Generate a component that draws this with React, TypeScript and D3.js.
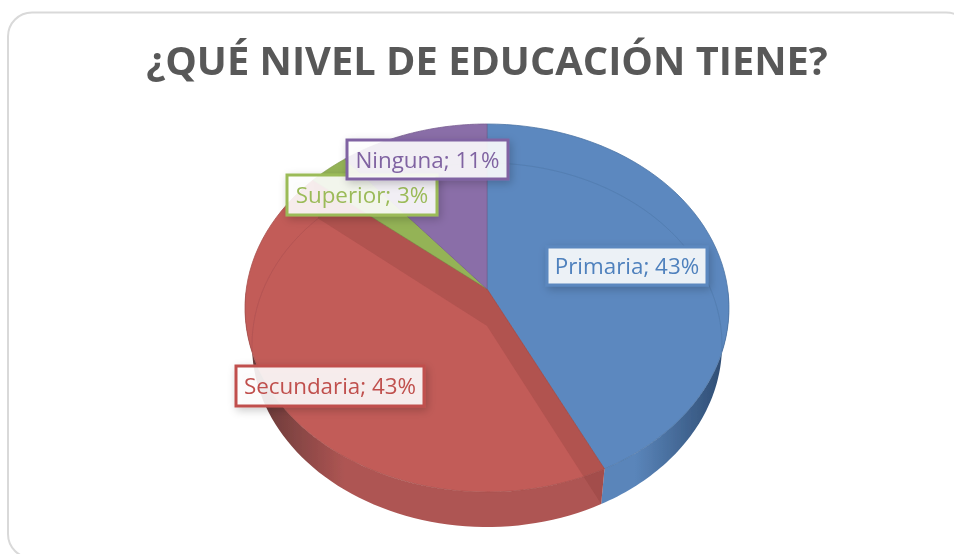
import React from "react";
import * as d3 from "d3";

const W = 954, H = 554;
const titleText = "¿QUÉ NIVEL DE EDUCACIÓN TIENE?";
const categories = ["Primaria", "Secundaria", "Superior", "Ninguna"];
const shares = [42.7, 43.3, 3, 11];
const colors = ["#5B88BF", "#C25C59", "#94B356", "#8A6EA8"];
const wallDark = ["#2E4C72", "#6B3B3A", "#94B356", "#8A6EA8"];
const wallLight = ["#5A85BA", "#AE5553", "#94B356", "#8A6EA8"];
const labelDark = ["#4F81BD", "#C0504D", "#9BBB59", "#8064A2"];
const labelBorder = ["#5B88BF", "#C0504D", "#9BBB59", "#8064A2"];
// label boxes: x, y, w, h
const boxes: Record<string, number[]> = {
  Primaria: [547, 247, 160, 38],
  Secundaria: [236, 366, 188, 40],
  Superior: [287, 175, 150, 40],
  Ninguna: [347, 140, 161, 39],
};
const drawOrder = ["Primaria", "Secundaria", "Superior", "Ninguna"];

const top = { cx: 487, cy: 308, rx: 242, ry: 184, apex: -19 };
const bot = { cx: 487, cy: 345, rx: 235, ry: 182, apex: -19 };
type Disc = typeof top;

function project(d: Disc, theta: number): [number, number] {
  const X = Math.sin(theta), Y = -Math.cos(theta);
  const c = d.apex / d.ry;
  const k = d.rx * Math.sqrt(1 - c * c);
  const den = 1 + c * Y;
  return [d.cx + (k * X) / den, d.cy + (d.ry * Y + d.apex) / den];
}
const apexPt = (d: Disc): [number, number] => [d.cx, d.cy + d.apex];
const rim = (d: Disc, a: number, b: number) =>
  d3.range(0, 61).map((i) => project(d, a + ((b - a) * i) / 60));

const line = d3.line<[number, number]>();
const pie = d3.pie<number>().sort(null).value((v) => v);
const arcs = pie(shares);

export default function App() {
  const frontStart = Math.PI * 0.5;
  const frontEnd = Math.PI * 1.5;
  return (
    <svg width={W} height={H} viewBox={`0 0 ${W} ${H}`} style={{ position: "absolute", left: 0, top: 0, background: "#fff" }}>
      <defs>
        <filter id="shadow" x="-20%" y="-30%" width="140%" height="170%">
          <feDropShadow dx="2" dy="3" stdDeviation="4" floodColor="#000" floodOpacity="0.22" />
        </filter>
        <filter id="soft" x="-5%" y="-5%" width="110%" height="110%">
          <feGaussianBlur stdDeviation="0.45" />
        </filter>
        <linearGradient id="wall0" gradientUnits="userSpaceOnUse" x1="725" x2="635" y1="0" y2="0">
          <stop offset="0" stopColor={wallDark[0]} />
          <stop offset="1" stopColor={wallLight[0]} />
        </linearGradient>
        <linearGradient id="wall1" gradientUnits="userSpaceOnUse" x1="262" x2="345" y1="0" y2="0">
          <stop offset="0" stopColor={wallDark[1]} />
          <stop offset="1" stopColor={wallLight[1]} />
        </linearGradient>
        <clipPath id="topClip">
          <path d={(line(rim(top, 0, Math.PI * 2)) as string) + "Z"} />
        </clipPath>
      </defs>
      <rect x={8} y={12.5} width={962} height={545.5} rx={24} fill="#fff" stroke="#D9D9D9" strokeWidth={2} />
      <text x={487} y={75} textAnchor="middle" fontFamily="Open Sans" fontWeight={700} fontSize={39.8} fill="#595959" filter="url(#soft)">{titleText}</text>

      <g filter="url(#soft)">
        {/* outer walls */}
        {arcs.slice(0, 2).map((a, i) => {
          const s = Math.max(a.startAngle, frontStart);
          const e = Math.min(a.endAngle, frontEnd);
          const pts = [...rim(top, s, e), ...rim(bot, s, e).reverse()];
          return <path key={i} d={(line(pts) as string) + "Z"} fill={`url(#wall${i})`} />;
        })}
        {/* top faces */}
        {arcs.map((a, i) => {
          const pts = [apexPt(top), ...rim(top, a.startAngle, a.endAngle)];
          return <path key={i} d={(line(pts) as string) + "Z"} fill={colors[i]} stroke={d3.color(colors[i])!.darker(0.4).formatHex()} strokeWidth={0.8} />;
        })}
        {/* cut walls of the Secundaria slice, seen through the top */}
        {[arcs[1].startAngle, arcs[1].endAngle].map((t, i) => {
          const pts = [apexPt(top), project(top, t), project(bot, t), apexPt(bot)];
          return <path key={i} d={(line(pts) as string) + "Z"} fill="#8B3A38" fillOpacity={0.3} />;
        })}
        {/* bottom disc seen through the top */}
        {arcs.map((a, i) => (
          <path key={i} d={line(rim(bot, a.startAngle, a.endAngle)) as string} fill="none" stroke={d3.color(colors[i])!.darker(0.6).formatHex()} strokeOpacity={0.45} strokeWidth={0.8}
            clipPath="url(#topClip)" />
        ))}
      </g>

      {drawOrder.map((name) => {
        const i = categories.indexOf(name);
        const [x, y, w, h] = boxes[name];
        return (
          <g key={name}>
            <rect x={x} y={y} width={w} height={h} fill="#fff" fillOpacity={0.88} stroke={labelBorder[i]} strokeWidth={3} filter="url(#shadow)" />
            <text x={x + w / 2} y={y + h / 2 + 8} textAnchor="middle" fontFamily="Open Sans" fontSize={22.4} fill={labelDark[i]} filter="url(#soft)">
              {`${name}; ${Math.round(shares[i])}%`}
            </text>
          </g>
        );
      })}
    </svg>
  );
}
